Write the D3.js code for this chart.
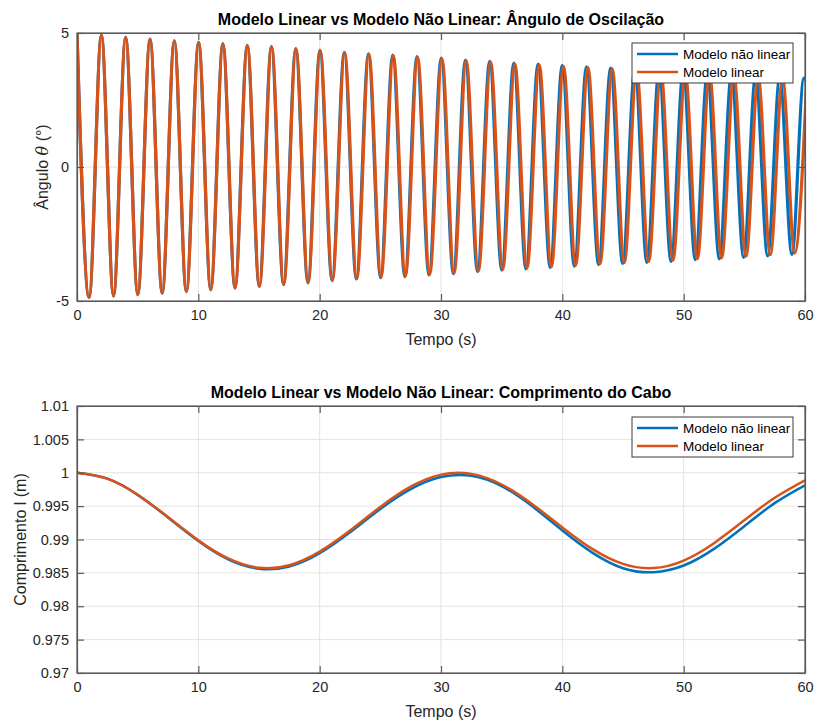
<!DOCTYPE html>
<html>
<head>
<meta charset="utf-8">
<script src="https://cdn.jsdelivr.net/npm/d3@7"></script>
<style>
  body { margin: 0; background: #fff; }
  svg { font-family: "Liberation Sans", Arial, sans-serif; }
</style>
</head>
<body>
<svg id="chart" width="814" height="720"></svg>
<script>
// tempo (s) das extremidades de cada oscilação, modelo linear
var angleTimesLin = [0, 1.00, 2.01, 3.01, 4.01, 5.01, 6.02, 7.02, 8.02, 9.02,
  10.03, 11.03, 12.03, 13.03, 14.04, 15.04, 16.04, 17.04, 18.05, 19.05,
  20.05, 21.05, 22.06, 23.06, 24.06, 25.06, 26.07, 27.07, 28.07, 29.07,
  30.08, 31.08, 32.08, 33.08, 34.09, 35.09, 36.09, 37.09, 38.10, 39.10,
  40.10, 41.10, 42.11, 43.11, 44.11, 45.11, 46.12, 47.12, 48.12, 49.12,
  50.13, 51.13, 52.13, 53.13, 54.14, 55.14, 56.14, 57.14, 58.15, 59.15, 60.15]
var angleLin = [5.0, -4.87, 4.92, -4.81, 4.84, -4.76, 4.77, -4.71, 4.71, -4.65,
  4.65, -4.57, 4.59, -4.51, 4.53, -4.45, 4.48, -4.38, 4.41, -4.31,
  4.34, -4.23, 4.27, -4.17, 4.21, -4.11, 4.16, -4.07, 4.10, -4.01,
  4.04, -3.96, 3.97, -3.88, 3.92, -3.82, 3.85, -3.77, 3.81, -3.72,
  3.76, -3.67, 3.71, -3.61, 3.66, -3.57, 3.61, -3.52, 3.56, -3.48,
  3.51, -3.42, 3.46, -3.39, 3.41, -3.33, 3.36, -3.27, 3.31, -3.21, 3.27]

// modelo não linear (adianta-se um pouco no fim)
var angleTimesNl = [0, 1.00, 2.01, 3.01, 4.01, 5.01, 6.02, 7.02, 8.02, 9.01,
  10.02, 11.02, 12.02, 13.02, 14.03, 15.02, 16.02, 17.02, 18.03, 19.03,
  20.02, 21.02, 22.03, 23.02, 24.02, 25.02, 26.02, 27.02, 28.02, 29.01,
  30.02, 31.02, 32.01, 33.01, 34.01, 35.01, 36.00, 37.00, 38.00, 39.00,
  39.99, 40.99, 41.99, 42.99, 43.98, 44.97, 45.98, 46.97, 47.97, 48.96,
  49.96, 50.96, 51.95, 52.94, 53.94, 54.94, 55.93, 56.92, 57.92, 58.92, 59.91, 60.90]
var angleNl = [5.0, -4.87, 4.92, -4.81, 4.84, -4.76, 4.77, -4.71, 4.71, -4.65,
  4.65, -4.58, 4.60, -4.52, 4.54, -4.46, 4.49, -4.39, 4.42, -4.32,
  4.35, -4.24, 4.28, -4.18, 4.22, -4.13, 4.18, -4.09, 4.12, -4.03,
  4.06, -3.98, 3.99, -3.90, 3.94, -3.85, 3.88, -3.80, 3.84, -3.75,
  3.79, -3.70, 3.74, -3.64, 3.69, -3.60, 3.65, -3.56, 3.60, -3.52,
  3.55, -3.46, 3.50, -3.43, 3.46, -3.37, 3.41, -3.32, 3.36, -3.26, 3.32, -3.21]

var lengthTimes = [0, 2.5, 5, 7.5, 10, 12.5, 15, 17.5, 20, 22.5, 25, 27.5, 30,
  32.5, 35, 37.5, 40, 42.5, 45, 47.5, 50, 52.5, 55, 57.5, 60]
var lengthLin = [1.0000, 0.99912, 0.99671, 0.99336, 0.98987, 0.98712, 0.98577,
  0.98615, 0.98818, 0.99134, 0.99488, 0.99792, 0.99972, 0.99983, 0.99824,
  0.99533, 0.99181, 0.98855, 0.98634, 0.98572, 0.98685, 0.98945, 0.99288,
  0.99625, 0.99888]
var lengthNl = [1.0000, 0.99911, 0.99668, 0.99330, 0.98978, 0.98700, 0.98562,
  0.98595, 0.98795, 0.99108, 0.99458, 0.99755, 0.99935, 0.99955, 0.99800,
  0.99500, 0.99135, 0.98800, 0.98570, 0.98510, 0.98610, 0.98860, 0.99200,
  0.99545, 0.99812]

var timeTicks = [0, 10, 20, 30, 40, 50, 60]
var angleTicks = [-5, 0, 5]
var angleTickLabels = ['-5', '0', '5']
var lengthTicks = [0.97, 0.975, 0.98, 0.985, 0.99, 0.995, 1, 1.005, 1.01]
var lengthTickLabels = ['0.97', '0.975', '0.98', '0.985', '0.99', '0.995', '1', '1.005', '1.01']
var seriesNames = ['Modelo não linear', 'Modelo linear']
var colors = ['#0072BD', '#D95319']

var svg = d3.select('#chart')

function zip (xs, ys) {
  return xs.map(function (x, i) { return {x: x, y: ys[i]} })
}

function drawPanel (cfg) {
  var left = 77, right = 805
  var w = right - left
  var h = cfg.bottom - cfg.top
  var g = svg.append('g').attr('transform', 'translate(' + left + ',' + cfg.top + ')')

  var x = d3.scaleLinear().domain([0, 60]).range([0, w])
  var y = d3.scaleLinear().domain(cfg.domain).range([h, 0])

  // grade
  g.append('g').selectAll('line').data(timeTicks.slice(1, -1)).join('line')
    .attr('x1', function (d) { return x(d) }).attr('x2', function (d) { return x(d) })
    .attr('y1', 0).attr('y2', h)
    .attr('stroke', '#e3e3e3').attr('stroke-width', 1)
  g.append('g').selectAll('line').data(cfg.ticks.slice(1, -1)).join('line')
    .attr('y1', function (d) { return y(d) }).attr('y2', function (d) { return y(d) })
    .attr('x1', 0).attr('x2', w)
    .attr('stroke', '#e3e3e3').attr('stroke-width', 1)

  var clipId = 'clip' + cfg.id
  g.append('clipPath').attr('id', clipId)
    .append('rect').attr('width', w).attr('height', h)

  var line = d3.line()
    .x(function (d) { return x(d.x) })
    .y(function (d) { return y(d.y) })
    .curve(cfg.curve)

  var lines = g.append('g').attr('clip-path', 'url(#' + clipId + ')')
  cfg.series.forEach(function (s, i) {
    lines.append('path')
      .datum(s)
      .attr('fill', 'none')
      .attr('stroke', colors[i])
      .attr('stroke-width', cfg.lineWidth)
      .attr('stroke-linejoin', 'round')
      .attr('d', line)
  })

  // eixos com marcas para dentro
  var tick = 7
  g.append('g').attr('transform', 'translate(0,' + h + ')')
    .call(d3.axisBottom(x).tickValues(timeTicks).tickSizeInner(-tick).tickSizeOuter(0).tickPadding(9)
      .tickFormat(function (d) { return String(d) }))
  g.append('g')
    .call(d3.axisTop(x).tickValues(timeTicks).tickSizeInner(-tick).tickSizeOuter(0).tickFormat(''))
  g.append('g')
    .call(d3.axisLeft(y).tickValues(cfg.ticks).tickSizeInner(-tick).tickSizeOuter(0).tickPadding(8)
      .tickFormat(function (d, i) { return cfg.tickLabels[i] }))
  g.append('g').attr('transform', 'translate(' + w + ',0)')
    .call(d3.axisRight(y).tickValues(cfg.ticks).tickSizeInner(-tick).tickSizeOuter(0).tickFormat(''))

  g.selectAll('.domain').attr('stroke', '#5a5a5a').attr('stroke-width', 1.2)
  g.selectAll('.tick line').attr('stroke', '#5a5a5a').attr('stroke-width', 1.2)
  g.selectAll('.tick text').attr('font-size', 14.5).attr('fill', '#262626')
    .attr('font-family', '"Liberation Sans", Arial, sans-serif')

  g.append('rect').attr('width', w).attr('height', h)
    .attr('fill', 'none').attr('stroke', '#5a5a5a').attr('stroke-width', 1.2)

  // título e rótulos
  g.append('text')
    .attr('x', w / 2).attr('y', -8)
    .attr('text-anchor', 'middle')
    .attr('font-size', 16).attr('font-weight', 'bold').attr('fill', '#000')
    .text(cfg.title)

  g.append('text')
    .attr('x', w / 2).attr('y', h + 44)
    .attr('text-anchor', 'middle')
    .attr('font-size', 16).attr('fill', '#262626')
    .text('Tempo (s)')

  var ylab = g.append('text')
    .attr('transform', 'translate(' + (cfg.ylabelX - left) + ',' + (h / 2) + ') rotate(-90)')
    .attr('text-anchor', 'middle')
    .attr('dy', '0.35em')
    .attr('font-size', 16).attr('fill', '#262626')
  cfg.ylabel.forEach(function (part) {
    ylab.append('tspan').attr('font-style', part.italic ? 'italic' : 'normal')
      .attr('font-family', part.italic ? '"DejaVu Serif", serif' : null)
      .text(part.text)
  })

  // legenda
  var lg = g.append('g').attr('transform', 'translate(' + (632 - left) + ',' + cfg.legendTop + ')')
  lg.append('rect').attr('width', 161).attr('height', 40)
    .attr('fill', '#fff').attr('stroke', '#3a3a3a').attr('stroke-width', 1)
  seriesNames.forEach(function (name, i) {
    var cy = 11 + i * 18
    lg.append('line').attr('x1', 5).attr('x2', 46).attr('y1', cy).attr('y2', cy)
      .attr('stroke', colors[i]).attr('stroke-width', 2.6)
    lg.append('text').attr('x', 51).attr('y', cy).attr('dy', '0.35em')
      .attr('font-size', 13.5).attr('fill', '#000').text(name)
  })
}

drawPanel({
  id: 'a',
  top: 33,
  bottom: 301,
  domain: [-5, 5],
  ticks: angleTicks,
  tickLabels: angleTickLabels,
  title: 'Modelo Linear vs Modelo Não Linear: Ângulo de Oscilação',
  ylabel: [{text: 'Ângulo '}, {text: 'θ', italic: true}, {text: ' (°)'}],
  ylabelX: 42,
  legendTop: 10,
  curve: d3.curveMonotoneX,
  lineWidth: 3.2,
  series: [zip(angleTimesNl, angleNl), zip(angleTimesLin, angleLin)]
})

drawPanel({
  id: 'b',
  top: 406,
  bottom: 673,
  domain: [0.97, 1.01],
  ticks: lengthTicks,
  tickLabels: lengthTickLabels,
  title: 'Modelo Linear vs Modelo Não Linear: Comprimento do Cabo',
  ylabel: [{text: 'Comprimento l (m)'}],
  ylabelX: 20,
  legendTop: 11,
  curve: d3.curveNatural,
  lineWidth: 2.5,
  series: [zip(lengthTimes, lengthNl), zip(lengthTimes, lengthLin)]
})
</script>
</body>
</html>
